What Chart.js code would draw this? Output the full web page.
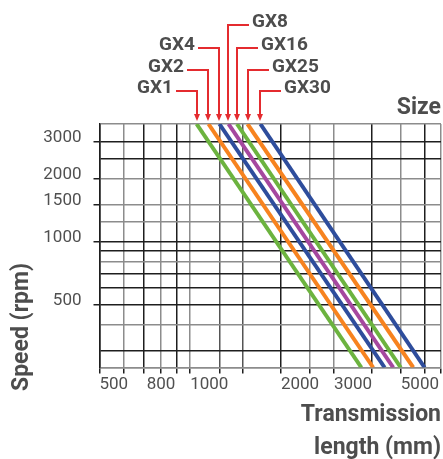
<!DOCTYPE html>
<html>
<head>
<meta charset="utf-8">
<script src="https://cdn.jsdelivr.net/npm/chart.js@4.4.1/dist/chart.umd.min.js"></script>
<style>
  html, body { margin: 0; padding: 0; background: #fff; }
  #wrap { width: 443px; height: 459px; }
</style>
</head>
<body>
<div id="wrap"><canvas id="speedChart" width="443" height="459"></canvas></div>
<script>
// data
var sizes = ['GX1', 'GX2', 'GX4', 'GX8', 'GX16', 'GX25', 'GX30'];
var lengthAtTop = [1050, 1150, 1250, 1340, 1430, 1550, 1710];
var lengthAtBottom = [3700, 4050, 4420, 4720, 5000, 5500, 6000];
var speedTop = 3650;
var speedBottom = 250;
var lengthGrid = [500, 600, 700, 800, 900, 1000, 1250, 1500, 2000, 2500, 3000, 4000, 5000, 6000, 6800];
var lengthLabels = ['500', '800', '1000', '2000', '3000', '5000'];
var speedGrid = [250, 300, 400, 500, 600, 700, 800, 900, 1000, 1250, 1500, 2000, 2500, 3000, 3650];
var speedLabels = ['500', '1000', '1500', '2000', '3000'];

// look
var sizeColors = ['#6cb33f', '#f7831f', '#2e4d9c', '#a5479f', '#6cb33f', '#f7831f', '#2e4d9c'];
var lengthLabelAlign = ['left', 'center', 'left', 'left', 'left', 'left'];
var darkLength = [500, 700, 900, 2000, 4000, 6000];
var midLength = [1250, 1500];
var darkSpeed = [300, 500, 600, 700, 900, 1000, 2500, 3000];
var leaderRise = [33, 54, 76, 99, 76, 54, 33];
var leaderSide = ['left', 'left', 'left', 'right', 'right', 'right', 'right'];
var red = '#e42b2f';
var textGrey = '#4d4d4d';
var tickGrey = '#505050';
var dark = '#1e1e1e';
var grey = '#8c8c8c';

var datasets = [];
for (var i = 0; i < sizes.length; i++) {
	datasets.push({
		label: sizes[i],
		data: [{x: lengthAtTop[i], y: speedTop}, {x: lengthAtBottom[i], y: speedBottom}],
		borderColor: sizeColors[i],
		borderWidth: 4,
		borderCapStyle: 'butt',
		pointRadius: 0,
		fill: false
	});
}

var sizeTags = {
	id: 'sizeTags',
	afterDraw: function(chart) {
		var ctx = chart.ctx;
		var top = chart.chartArea.top;
		var bottom = chart.chartArea.bottom;
		var xs = chart.scales.x;
		ctx.save();

		// length tick labels
		ctx.font = '17px Roboto';
		ctx.fillStyle = tickGrey;
		ctx.textBaseline = 'middle';
		for (var j = 0; j < lengthLabels.length; j++) {
			ctx.textAlign = lengthLabelAlign[j];
			ctx.fillText(lengthLabels[j], xs.getPixelForValue(Number(lengthLabels[j])), bottom + 17);
		}

		// size tags with red arrows
		ctx.lineWidth = 2;
		ctx.font = 'bold 19px Roboto';
		ctx.textBaseline = 'alphabetic';
		for (var i = 0; i < sizes.length; i++) {
			var x = Math.round(xs.getPixelForValue(lengthAtTop[i]));
			var y = Math.round(top - leaderRise[i]);
			var dir = leaderSide[i] == 'left' ? -1 : 1;
			var x2 = x + dir * 21;
			ctx.strokeStyle = red;
			ctx.fillStyle = red;
			ctx.beginPath();
			ctx.moveTo(x2, y);
			ctx.lineTo(x, y);
			ctx.lineTo(x, top - 9);
			ctx.stroke();
			ctx.beginPath();
			ctx.moveTo(x - 3, top - 10);
			ctx.lineTo(x + 3, top - 10);
			ctx.lineTo(x, top - 3);
			ctx.closePath();
			ctx.fill();
			ctx.fillStyle = textGrey;
			ctx.textAlign = dir < 0 ? 'right' : 'left';
			ctx.fillText(sizes[i], x2 + dir * 3, y + 1.5);
		}

		// y axis title
		ctx.translate(22, 327);
		ctx.rotate(-Math.PI / 2);
		ctx.font = 'bold 23px Roboto';
		ctx.textAlign = 'center';
		ctx.textBaseline = 'middle';
		ctx.fillText('Speed (rpm)', 0, 0);
		ctx.restore();
	}
};

var ctx = document.getElementById('speedChart').getContext('2d');
var speedChart = new Chart(ctx, {
	type: 'line',
	data: { datasets: datasets },
	plugins: [sizeTags],
	options: {
		responsive: false,
		animation: false,
		layout: { padding: { top: 92.4, right: 2, left: 0, bottom: 0 } },
		plugins: {
			legend: { display: false },
			tooltip: { enabled: false },
			title: {
				display: true,
				text: 'Size',
				align: 'end',
				color: textGrey,
				font: { family: 'Roboto', size: 23, weight: 'bold', lineHeight: 1.2 },
				padding: { top: 2, bottom: 2 }
			}
		},
		scales: {
			x: {
				type: 'logarithmic',
				min: 500,
				max: 6800,
				afterBuildTicks: function(scale) {
					scale.ticks = lengthGrid.map(function(v) { return {value: v}; });
				},
				afterFit: function(scale) { scale.height = 91.5; },
				ticks: {
					display: false,
					autoSkip: false,
					maxRotation: 0
				},
				grid: {
					lineWidth: 1.5,
					tickLength: 6,
					color: function(c) {
						var v = c.tick ? c.tick.value : 0;
						if (darkLength.indexOf(v) >= 0) return dark;
						if (midLength.indexOf(v) >= 0) return '#555';
						return grey;
					},
					tickColor: dark
				},
				border: { color: grey, width: 1.5 },
				title: {
					display: true,
					text: ['Transmission', 'length (mm)'],
					align: 'end',
					color: textGrey,
					font: { family: 'Roboto', size: 23, weight: 'bold', lineHeight: 1.435 },
					padding: { top: 0, bottom: -6 }
				}
			},
			y: {
				type: 'logarithmic',
				min: speedBottom,
				max: speedTop,
				afterBuildTicks: function(scale) {
					scale.ticks = speedGrid.map(function(v) { return {value: v}; });
				},
				afterFit: function(scale) { scale.width = 99.5; },
				ticks: {
					autoSkip: false,
					padding: 12,
					labelOffset: -4,
					color: tickGrey,
					font: { family: 'Roboto', size: 17 },
					callback: function(value) {
						return speedLabels.indexOf(String(value)) >= 0 ? String(value) : '';
					}
				},
				grid: {
					lineWidth: 1.5,
					tickLength: 6,
					color: function(c) {
						var v = c.tick ? c.tick.value : 0;
						return darkSpeed.indexOf(v) >= 0 ? dark : grey;
					},
					tickColor: function(c) {
						var v = c.tick ? c.tick.value : 0;
						return speedLabels.indexOf(String(v)) >= 0 ? dark : 'rgba(0,0,0,0)';
					}
				},
				border: { color: dark, width: 1.5 }
			}
		}
	}
});
</script>
</body>
</html>
